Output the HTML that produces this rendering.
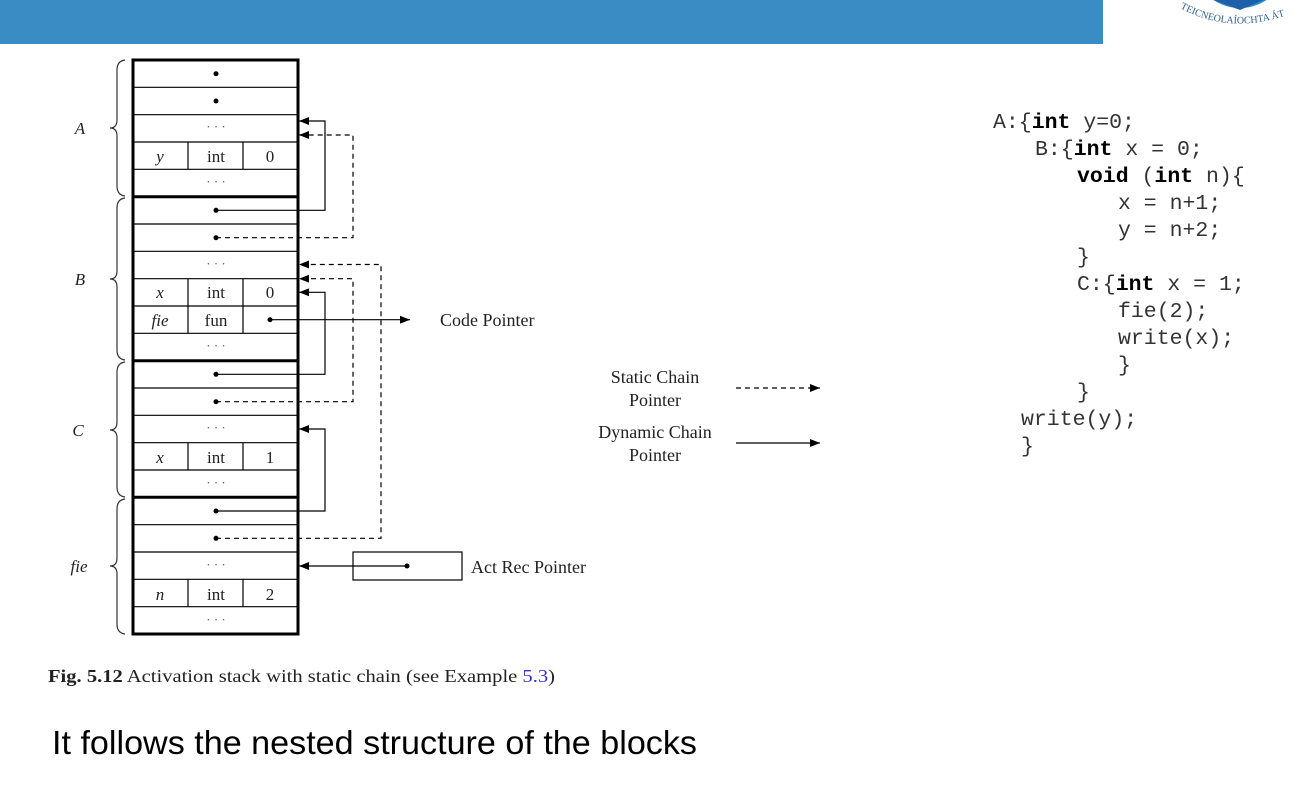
<!DOCTYPE html>
<html><head><meta charset="utf-8"><style>
html,body{margin:0;padding:0;background:#fff;}
body{width:1305px;height:790px;overflow:hidden;position:relative;}
</style></head><body>
<svg width="1305" height="790" xmlns="http://www.w3.org/2000/svg" style="position:absolute;left:0;top:0">
<defs>
<marker id="ah" markerWidth="10" markerHeight="8" refX="10" refY="4" orient="auto" markerUnits="userSpaceOnUse">
<path d="M0,0 L10,4 L0,8 Z" fill="#000"/></marker>
<path id="arc" d="M1180,8 Q1235,38 1300,10"/>
</defs>
<rect x="0" y="0" width="1103" height="44" fill="#3a8cc4"/>
<!-- logo partial -->
<circle cx="1240" cy="-40" r="48" fill="#1f8fd6"/>
<path d="M1200,-5 L1240,10 L1275,-5" fill="#1d5fa8"/>
<text font-family="Liberation Serif, serif" font-size="10" fill="#2a5f95"><textPath href="#arc">TEICNEOLAÍOCHTA ÁT</textPath></text>

<!-- stack rows -->
<g stroke="#000" stroke-width="1.2" fill="none">
<line x1="133" y1="87.3" x2="298" y2="87.3"/><line x1="133" y1="114.7" x2="298" y2="114.7"/>
<line x1="133" y1="142" x2="298" y2="142"/><line x1="133" y1="169.3" x2="298" y2="169.3"/>
<line x1="133" y1="224" x2="298" y2="224"/><line x1="133" y1="251.3" x2="298" y2="251.3"/>
<line x1="133" y1="278.7" x2="298" y2="278.7"/><line x1="133" y1="306" x2="298" y2="306"/>
<line x1="133" y1="333.3" x2="298" y2="333.3"/>
<line x1="133" y1="388" x2="298" y2="388"/><line x1="133" y1="415.3" x2="298" y2="415.3"/>
<line x1="133" y1="442.7" x2="298" y2="442.7"/><line x1="133" y1="470" x2="298" y2="470"/>
<line x1="133" y1="524.7" x2="298" y2="524.7"/><line x1="133" y1="552" x2="298" y2="552"/>
<line x1="133" y1="579.3" x2="298" y2="579.3"/><line x1="133" y1="606.7" x2="298" y2="606.7"/>
<line x1="188" y1="142" x2="188" y2="169.3"/><line x1="243" y1="142" x2="243" y2="169.3"/>
<line x1="188" y1="278.7" x2="188" y2="333.3"/><line x1="243" y1="278.7" x2="243" y2="333.3"/>
<line x1="188" y1="442.7" x2="188" y2="470"/><line x1="243" y1="442.7" x2="243" y2="470"/>
<line x1="188" y1="579.3" x2="188" y2="606.7"/><line x1="243" y1="579.3" x2="243" y2="606.7"/>
</g>
<g stroke="#000" stroke-width="3" fill="none">
<rect x="133" y="60" width="165" height="574"/>
<line x1="133" y1="196.7" x2="298" y2="196.7"/>
<line x1="133" y1="360.7" x2="298" y2="360.7"/>
<line x1="133" y1="497.3" x2="298" y2="497.3"/>
</g>
<g fill="#000">
<circle cx="216" cy="73.7" r="2.5"/><circle cx="216" cy="101" r="2.5"/>
<circle cx="216" cy="210.3" r="2.5"/><circle cx="216" cy="237.7" r="2.5"/>
<circle cx="270" cy="319.7" r="2.5"/>
<circle cx="216" cy="374.3" r="2.5"/><circle cx="216" cy="401.7" r="2.5"/>
<circle cx="216" cy="511" r="2.5"/><circle cx="216" cy="538.3" r="2.5"/>
<circle cx="407" cy="566" r="2.5"/>
</g>
<g font-family="Liberation Serif, serif" font-size="17" fill="#222" text-anchor="middle">
<g font-size="13" fill="#555">
<text x="216" y="131">· · ·</text><text x="216" y="186">· · ·</text>
<text x="216" y="268">· · ·</text><text x="216" y="350">· · ·</text>
<text x="216" y="432">· · ·</text><text x="216" y="487">· · ·</text>
<text x="216" y="569">· · ·</text><text x="216" y="624">· · ·</text>
</g>
<text x="160" y="162" font-style="italic">y</text><text x="216" y="162">int</text><text x="270" y="162">0</text>
<text x="160" y="298" font-style="italic">x</text><text x="216" y="298">int</text><text x="270" y="298">0</text>
<text x="160" y="326" font-style="italic">fie</text><text x="216" y="326">fun</text>
<text x="160" y="463" font-style="italic">x</text><text x="216" y="463">int</text><text x="270" y="463">1</text>
<text x="160" y="600" font-style="italic">n</text><text x="216" y="600">int</text><text x="270" y="600">2</text>
<text x="80" y="134" font-style="italic">A</text>
<text x="80" y="285" font-style="italic">B</text>
<text x="78" y="436" font-style="italic">C</text>
<text x="79" y="572" font-style="italic">fie</text>
</g>
<g stroke="#333" stroke-width="1.2" fill="none">
<path d="M125,60 Q117,61 117,70 L117,120 Q117,128 110,128 Q117,128 117,136 L117,186 Q117,195 125,196"/>
<path d="M125,198 Q117,199 117,208 L117,271 Q117,279 110,279 Q117,279 117,287 L117,350 Q117,359 125,360"/>
<path d="M125,362 Q117,363 117,372 L117,422 Q117,430 110,430 Q117,430 117,438 L117,487 Q117,496 125,497"/>
<path d="M125,499 Q117,500 117,509 L117,558 Q117,566 110,566 Q117,566 117,574 L117,624 Q117,633 125,634"/>
</g>
<g stroke="#000" stroke-width="1.2" fill="none">
<polyline points="216,210.3 325,210.3 325,121 299,121" marker-end="url(#ah)"/>
<polyline points="216,374.3 325,374.3 325,292.3 299,292.3" marker-end="url(#ah)"/>
<polyline points="216,511 325,511 325,429 299,429" marker-end="url(#ah)"/>
<line x1="270" y1="319.7" x2="410" y2="319.7" marker-end="url(#ah)"/>
<line x1="407" y1="566" x2="299" y2="566" marker-end="url(#ah)"/>
<rect x="353" y="552" width="109" height="28"/>
<line x1="736" y1="443" x2="820" y2="443" marker-end="url(#ah)"/>
</g>
<g stroke="#000" stroke-width="1.2" fill="none" stroke-dasharray="5,4">
<polyline points="216,237.7 353,237.7 353,135 299,135" marker-end="url(#ah)"/>
<polyline points="216,401.7 353,401.7 353,278.7 299,278.7" marker-end="url(#ah)"/>
<polyline points="216,538.3 381,538.3 381,264.5 299,264.5" marker-end="url(#ah)"/>
<line x1="736" y1="388" x2="820" y2="388" marker-end="url(#ah)"/>
</g>
<g font-family="Liberation Serif, serif" font-size="18" fill="#222">
<text x="440" y="326">Code Pointer</text>
<text x="471" y="573">Act Rec Pointer</text>
<text x="655" y="383" text-anchor="middle">Static Chain</text>
<text x="655" y="406" text-anchor="middle">Pointer</text>
<text x="655" y="438" text-anchor="middle">Dynamic Chain</text>
<text x="655" y="461" text-anchor="middle">Pointer</text>
<text x="48" y="682" textLength="507" lengthAdjust="spacingAndGlyphs"><tspan font-weight="bold">Fig. 5.12</tspan>   Activation stack with static chain (see Example <tspan fill="#3333cc">5.3</tspan>)</text>
</g>
<g font-family="Liberation Mono, monospace" font-size="21.5" fill="#333" xml:space="preserve">
<text x="993" y="128">A:{<tspan font-weight="bold" fill="#000">int</tspan> y=0;</text>
<text x="1035" y="155">B:{<tspan font-weight="bold" fill="#000">int</tspan> x = 0;</text>
<text x="1077" y="182"><tspan font-weight="bold" fill="#000">void</tspan> (<tspan font-weight="bold" fill="#000">int</tspan> n){</text>
<text x="1118" y="209">x = n+1;</text>
<text x="1118" y="236">y = n+2;</text>
<text x="1077" y="263">}</text>
<text x="1077" y="290">C:{<tspan font-weight="bold" fill="#000">int</tspan> x = 1;</text>
<text x="1118" y="317">fie(2);</text>
<text x="1118" y="344">write(x);</text>
<text x="1118" y="371">}</text>
<text x="1077" y="398">}</text>
<text x="1021" y="425">write(y);</text>
<text x="1021" y="452">}</text>
</g>
<text x="52" y="754" font-family="Liberation Sans, sans-serif" font-size="33" fill="#000" textLength="645" lengthAdjust="spacingAndGlyphs">It follows the nested structure of the blocks</text>
</svg>
</body></html>
